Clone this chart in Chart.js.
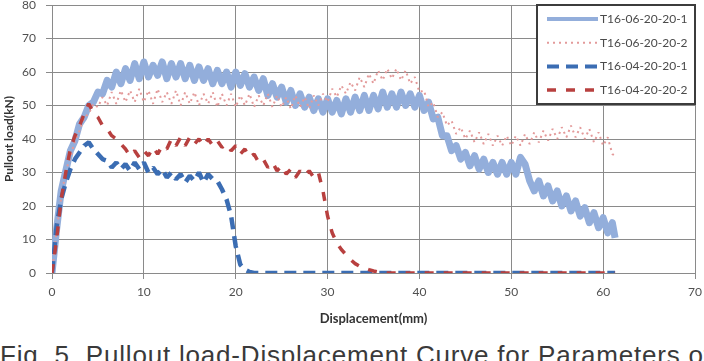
<!DOCTYPE html>
<html>
<head>
<meta charset="utf-8">
<script src="https://cdn.jsdelivr.net/npm/chart.js@4.4.0/dist/chart.umd.min.js"></script>
<style>
html,body{margin:0;padding:0;background:#fff;width:704px;height:361px;overflow:hidden;}
#wrap{position:absolute;left:0;top:0;width:704px;height:332px;}
#cap{position:absolute;left:0;top:342px;white-space:nowrap;font-family:"Liberation Sans",Arial,sans-serif;font-size:26px;line-height:26px;color:#3a3a3a;letter-spacing:0.8px;}
</style>
</head>
<body>
<div id="wrap"><canvas id="c"></canvas></div>
<div id="cap">Fig. 5. Pullout load-Displacement Curve for Parameters of</div>
<script>
// Displacement (mm)
const displacement = [
  0,0.5,1,1.5,2,2.5,3,3.5,4,4.5,
  5,5.5,6,6.5,7,7.5,8,8.5,9,9.5,
  10,10.5,11,11.5,12,12.5,13,13.5,14,14.5,
  15,15.5,16,16.5,17,17.5,18,18.5,19,19.5,
  20,20.5,21,21.5,22,22.5,23,23.5,24,24.5,
  25,25.5,26,26.5,27,27.5,28,28.5,29,29.5,
  30,30.5,31,31.5,32,32.5,33,33.5,34,34.5,
  35,35.5,36,36.5,37,37.5,38,38.5,39,39.5,
  40,40.5,41,41.5,42,42.5,43,43.5,44,44.5,
  45,45.5,46,46.5,47,47.5,48,48.5,49,49.5,
  50,50.5,51,51.5,52,52.5,53,53.5,54,54.5,
  55,55.5,56,56.5,57,57.5,58,58.5,59,59.5,
  60,60.5,61,61.3
];
// Pullout load (kN)
const loadT16_06_1 = [
  0,13,24.5,30.5,36.5,39.5,44.5,46.5,50,51,
  54,53.5,57.5,55.5,60,56.5,61,57.5,62.5,58,
  63,58.5,62,59,63,58,62.5,58.5,62.5,58,
  62,57.5,61.5,57.5,61,56.5,60.5,56.5,60,55.5,
  60,56,59.5,55.5,58.5,54.5,58,53,56.5,52.5,
  55.5,51,54.5,50,53.5,49.5,52.5,48.5,52,48,
  52,48,51.5,47.5,52,48,52.5,48.5,53,48.5,
  53,49,54,49.5,53.5,49.5,54,50,53.5,49.5,
  53,48.5,51,46,46.5,41,41,36.5,38,34,
  36,32,35,31,34,30,33,29.5,33,29.5,
  33,29.5,34.5,32.5,27.5,24.5,27.5,23,26,21.5,
  24.5,20,23,18.5,21.5,17,19.5,15,18,13.5,
  16.5,12,15,10.5
];
const loadT16_06_2 = [
  0,12.5,22.5,30.5,34.5,39.5,42.5,46.5,47.5,50.5,
  49.5,52.5,50,54,50.5,54.5,51,54.5,51,55,
  51,54.5,50.5,55,51,54,50.5,54.5,50,54,
  50.5,54,50,53.5,50.5,54,49.5,53.5,50,53.5,
  49.5,53,50,53.5,49.5,53,50,53.5,49.5,53,
  49.5,52.5,49,53,49.5,52.5,49,53,50,53.5,
  51,55,52.5,56,53.5,57,54.5,58.5,55.5,59.5,
  56.5,60.5,57.5,61,58,61,57.5,60.5,56.5,58.5,
  54,54.5,49.5,51,46.5,48,44,45.5,41.5,43.5,
  40,42.5,39,42,38.5,41.5,38,41,38,41,
  38,41,38,41.5,38.5,42,39,42.5,39.5,43,
  40,43.5,40.5,44,40.5,43.5,40,43,39,42,
  38,40.5,35.5,35
];
const loadT16_04_1 = [
  0,14,22,27,31,34,36,38,39,37,
  35.5,34,33.5,31.5,33,31,32.5,30.5,33,31,
  33,30,31.5,29.5,31,28.5,30,28,29.5,27,
  29,27.5,30,27,29.5,28,27.5,25,22,17,
  8,2.5,1,0.3,0,0,0,0,0,0,
  0,0,0,0,0,0,0,0,0,0,
  0,0,0,0,0,0,0,0,0,0,
  0,0,0,0,0,0,0,0,0,0,
  0,0,0,0,0,0,0,0,0,0,
  0,0,0,0,0,0,0,0,0,0,
  0,0,0,0,0,0,0,0,0,0,
  0,0,0,0,0,0,0,0,0,0,
  0,0,0,0
];
const loadT16_04_2 = [
  0,10,22,30,37,41,44,47.5,50.5,48,
  46.5,44,43,41,40,38.5,37,35,36.5,34.5,
  36.5,35,37.5,35.5,38,37,40,38,40.5,38,
  40.5,38.5,40,38,40,38,39.5,37.5,38.5,36.5,
  38,35.5,37,34.5,35.5,33,34,31.5,33,30.5,
  32,29.5,31,28.5,30.5,29,30.5,28.5,30,24.5,
  17,12,9,7,5.5,4,2.8,2,1.5,1,
  0.6,0.3,0,0,0,0,0,0,0,0,
  0,0,0,0,0,0,0,0,0,0,
  0,0,0,0,0,0,0,0,0,0,
  0,0,0,0,0,0,0,0,0,0,
  0,0,0,0,0,0,0,0,0,0,
  0,0,0,0
];
const seriesLabels = ['T16-06-20-20-1','T16-06-20-20-2','T16-04-20-20-1','T16-04-20-20-2'];
const xTicks = [0,10,20,30,40,50,60,70];
const yTicks = [0,10,20,30,40,50,60,70,80];

const FONT = 'Lato, "Open Sans", "Liberation Sans", sans-serif';
const pts = arr => displacement.map((x, i) => ({x: x, y: arr[i]}));

const legendPlugin = {
  id: 'boxLegend',
  afterDraw(chart) {
    const {ctx, chartArea} = chart;
    const w = 158, h = 99;
    const x0 = chartArea.right - w, y0 = chartArea.top;
    ctx.save();
    ctx.fillStyle = '#fff';
    ctx.fillRect(x0, y0, w, h);
    ctx.strokeStyle = '#3c3c3c';
    ctx.lineWidth = 2;
    ctx.strokeRect(x0, y0, w, h);
    chart.data.datasets.forEach((ds, i) => {
      const y = y0 + 14 + i * 23.7;
      ctx.beginPath();
      ctx.setLineDash(ds.borderDash || []);
      ctx.strokeStyle = ds.borderColor;
      ctx.lineWidth = Math.min(ds.borderWidth, 4);
      ctx.lineCap = 'butt';
      ctx.moveTo(x0 + 10, y);
      ctx.lineTo(x0 + 61, y);
      ctx.stroke();
      ctx.setLineDash([]);
      ctx.fillStyle = '#4a4a4a';
      ctx.font = '12px ' + FONT;
      ctx.textBaseline = 'middle';
      ctx.fillText(ds.label, x0 + 63, y);
    });
    ctx.restore();
  }
};

new Chart(document.getElementById('c'), {
  type: 'line',
  data: {
    datasets: [
      {label: seriesLabels[0], data: pts(loadT16_06_1), borderColor: '#93AEDB', borderWidth: 7, borderJoinStyle: 'round', order: 4},
      {label: seriesLabels[1], data: pts(loadT16_06_2), borderColor: '#E39A9A', borderWidth: 2, borderDash: [2, 4], order: 3},
      {label: seriesLabels[2], data: pts(loadT16_04_1), borderColor: '#3B6DB3', borderWidth: 4.5, borderDash: [12, 7], order: 2},
      {label: seriesLabels[3], data: pts(loadT16_04_2), borderColor: '#B8403F', borderWidth: 3.5, borderDash: [9, 10], order: 1}
    ]
  },
  options: {
    responsive: true,
    maintainAspectRatio: false,
    animation: false,
    layout: {padding: {top: 5, right: 9, left: 0, bottom: 0}},
    elements: {point: {radius: 0}, line: {tension: 0, fill: false, borderCapStyle: 'butt', borderJoinStyle: 'bevel'}},
    plugins: {legend: {display: false}, tooltip: {enabled: false}},
    scales: {
      x: {
        type: 'linear', min: 0, max: 70,
        afterBuildTicks: s => { s.ticks = xTicks.map(v => ({value: v})); },
        afterFit: s => { s.height = 59; s.paddingLeft = 0; s.paddingRight = 0; },
        grid: {color: '#8a8a8a', lineWidth: 1, tickLength: 6, drawTicks: true},
        border: {color: '#8a8a8a', width: 1},
        ticks: {font: {family: FONT, size: 12}, color: '#505050', padding: 6, maxRotation: 0},
        title: {display: true, text: 'Displacement(mm)', font: {family: FONT, size: 13, weight: 'bold'}, color: '#333', padding: {top: 4, bottom: 5}}
      },
      y: {
        min: 0, max: 80,
        afterBuildTicks: s => { s.ticks = yTicks.map(v => ({value: v})); },
        afterFit: s => { s.width = 52; s.paddingTop = 0; s.paddingBottom = 0; },
        grid: {color: '#8a8a8a', lineWidth: 1, tickLength: 6, drawTicks: true},
        border: {color: '#8a8a8a', width: 1},
        ticks: {font: {family: FONT, size: 12}, color: '#505050', padding: 10},
        title: {display: true, text: 'Pullout load(kN)', font: {family: FONT, size: 12, weight: 'bold'}, color: '#333', padding: {top: 2, bottom: 2}}
      }
    }
  },
  plugins: [legendPlugin]
});
</script>
</body>
</html>
